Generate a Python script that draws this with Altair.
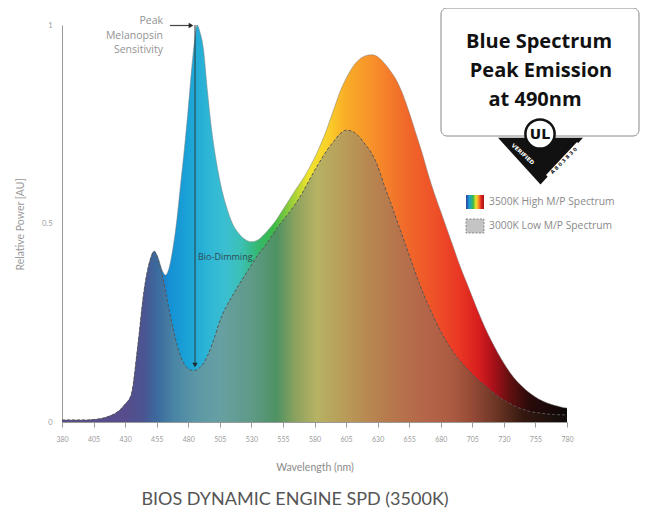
import altair as alt
import pandas as pd

# ---------------- data ----------------
wavelength = [380, 390, 400, 405, 410, 415, 420, 425, 430, 435,
              440, 445, 450, 453, 456, 459, 462, 465, 468, 471,
              474, 477, 480, 483, 485, 487, 489, 492, 495, 498,
              501, 504, 507, 510, 515, 520, 525, 530, 535, 540,
              545, 550, 555, 560, 565, 570, 575, 580, 585, 590,
              595, 600, 605, 610, 615, 620, 625, 630, 635, 640,
              645, 650, 655, 660, 665, 670, 675, 680, 685, 690,
              695, 700, 705, 710, 715, 720, 725, 730, 735, 740,
              745, 750, 755, 760, 765, 770, 775, 780]

high_mp = [0.005, 0.005, 0.005, 0.006, 0.008, 0.012, 0.018, 0.028, 0.045, 0.07,
           0.19, 0.33, 0.41, 0.43, 0.415, 0.385, 0.37, 0.39, 0.44, 0.51,
           0.6, 0.69, 0.79, 0.9, 0.96, 1.0, 0.985, 0.94, 0.84, 0.75,
           0.68, 0.625, 0.58, 0.545, 0.5, 0.475, 0.46, 0.454, 0.458, 0.472,
           0.49, 0.51, 0.535, 0.56, 0.585, 0.608, 0.635, 0.665, 0.7, 0.74,
           0.785, 0.83, 0.865, 0.893, 0.912, 0.922, 0.925, 0.92, 0.905, 0.885,
           0.86, 0.825, 0.78, 0.73, 0.68, 0.625, 0.575, 0.53, 0.485, 0.44,
           0.395, 0.355, 0.315, 0.275, 0.238, 0.205, 0.175, 0.148, 0.124, 0.104,
           0.088, 0.074, 0.063, 0.054, 0.047, 0.042, 0.038, 0.035]

low_mp = [0.005, 0.005, 0.005, 0.006, 0.008, 0.012, 0.018, 0.028, 0.045, 0.07,
          0.19, 0.33, 0.41, 0.43, 0.41, 0.375, 0.33, 0.28, 0.235, 0.195,
          0.165, 0.145, 0.134, 0.13, 0.13, 0.132, 0.137, 0.148, 0.165, 0.188,
          0.215, 0.245, 0.27, 0.29, 0.318, 0.345, 0.37, 0.395, 0.42, 0.44,
          0.463, 0.487, 0.508, 0.528, 0.55, 0.575, 0.604, 0.633, 0.66, 0.685,
          0.706, 0.725, 0.735, 0.732, 0.72, 0.7, 0.678, 0.645, 0.598, 0.555,
          0.51, 0.465, 0.42, 0.375, 0.333, 0.295, 0.26, 0.228, 0.2, 0.175,
          0.155, 0.137, 0.12, 0.105, 0.092, 0.078, 0.066, 0.055, 0.046, 0.038,
          0.032, 0.027, 0.024, 0.022, 0.02, 0.019, 0.018, 0.018]

x_ticks = [380, 405, 430, 455, 480, 505, 530, 555, 580, 605, 630, 655, 680, 705, 730, 755, 780]
y_ticks = [0, 0.5, 1]

title_text = "BIOS DYNAMIC ENGINE SPD (3500K)"
box_lines = ["Blue Spectrum", "Peak Emission", "at 490nm"]
peak_label = "Peak\nMelanopsin\nSensitivity"
dimming_label = "Bio-Dimming"
legend_labels = ["3500K High M/P Spectrum", "3000K Low M/P Spectrum"]

df = pd.DataFrame({"wl": wavelength, "high": high_mp, "low": low_mp})
one = pd.DataFrame({"k": [0]})

# ---------------- styles ----------------
high_stops = [(380, "#5b4e94"), (425, "#5a4a98"), (440, "#4f4d9c"), (452, "#2f63b0"),
              (465, "#1590d4"), (480, "#1aa3d6"), (495, "#2db5d6"), (510, "#3bbfd0"),
              (522, "#3cc0b5"), (535, "#35b870"), (548, "#3cba45"), (562, "#9ccf3a"),
              (575, "#efe42c"), (590, "#fbd12a"), (605, "#f9ac28"), (625, "#f7922a"),
              (650, "#f16c2a"), (675, "#ee5128"), (695, "#e93624"), (710, "#d81e1e"),
              (722, "#a8101a"), (735, "#601010"), (750, "#2a0a0a"), (780, "#0c0808")]
low_stops = [(380, "#5a4f8e"), (430, "#574c8c"), (445, "#4a5592"), (455, "#3b6a9e"),
             (470, "#4a86a5"), (485, "#5b96a6"), (505, "#67a0a2"), (530, "#5f9a88"),
             (550, "#4e9262"), (565, "#8ca25e"), (582, "#b7b264"), (600, "#b8a05a"),
             (620, "#b88a52"), (645, "#b6744c"), (670, "#b46448"), (690, "#aa5a40"),
             (705, "#954a36"), (725, "#6a3424"), (745, "#35180f"), (780, "#0f0c0c")]


def grad(stops):
    return alt.Gradient(gradient="linear",
                        stops=[alt.GradientStop(color=c, offset=(w - 380) / 400.0) for w, c in stops],
                        x1=0, x2=1, y1=0, y2=0)


legend_grad = alt.Gradient(gradient="linear",
                           stops=[alt.GradientStop(color="#2b3f9c", offset=0),
                                  alt.GradientStop(color="#1aa3d6", offset=0.2),
                                  alt.GradientStop(color="#3cba45", offset=0.4),
                                  alt.GradientStop(color="#efe42c", offset=0.55),
                                  alt.GradientStop(color="#f7922a", offset=0.7),
                                  alt.GradientStop(color="#e02020", offset=0.85),
                                  alt.GradientStop(color="#a01818", offset=1)],
                           x1=0, x2=1, y1=0, y2=0)

FONT = "Lato"
FONT2 = "Open Sans"

xenc = alt.X("wl:Q", scale=alt.Scale(domain=[380, 780], nice=False, zero=False),
             axis=alt.Axis(values=x_ticks, tickCount=len(x_ticks) + 2,
                           title="Wavelength (nm)", grid=False,
                           labelOverlap=False, labelFlush=False,
                           domainColor="#9a9a9a", tickColor="#9a9a9a", tickSize=5,
                           labelFontSize=7, labelColor="#9a9a9a", labelPadding=8,
                           labelFont=FONT, titleFont=FONT, titleFontSize=10.5,
                           titleFontWeight="normal", titleColor="#8a8a8a",
                           titleY=45, titleBaseline="middle"))


def yenc(field):
    return alt.Y(field, type="quantitative", scale=alt.Scale(domain=[0, 1], nice=False),
                 axis=alt.Axis(values=y_ticks, tickCount=5, format="~g", title="Relative Power [AU]",
                               grid=False, ticks=False, tickSize=0, domainColor="#9a9a9a",
                               labelOverlap=False, labelFlush=False,
                               labelFontSize=7.5, labelColor="#9a9a9a", labelPadding=10,
                               labelFont=FONT, titleFont=FONT, titleFontSize=10.5,
                               titleFontWeight="normal", titleColor="#9a9a9a",
                               titleX=-42, titleY=199, titleAlign="center",
                               titleBaseline="middle"))


base = alt.Chart(df)
high_area = base.mark_area(color=grad(high_stops), interpolate="monotone").encode(x=xenc, y=yenc("high"))
high_line = base.mark_line(color="#7a7a7a", strokeWidth=0.8, opacity=0.6,
                           interpolate="monotone").encode(x="wl:Q", y="high:Q")
low_area = base.mark_area(color=grad(low_stops), interpolate="monotone").encode(x="wl:Q", y="low:Q")
low_line = base.mark_line(color="#555555", strokeWidth=1, strokeDash=[3, 2],
                          interpolate="monotone").encode(x="wl:Q", y="low:Q")

ann = alt.Chart(one)

# Bio-dimming arrow
dim_rule = ann.mark_rule(color="#2a3a40", strokeWidth=1).encode(
    x=alt.value(133), y=alt.value(0), y2=alt.value(338))
dim_head = ann.mark_point(shape="triangle-down", filled=True, color="#1e2a30", size=30, opacity=1).encode(
    x=alt.value(133), y=alt.value(340))
dim_text = ann.mark_text(text=dimming_label, align="left", baseline="middle", fontSize=9,
                         font=FONT2, color="#2f4a55").encode(x=alt.value(136), y=alt.value(232))

# Peak annotation
peak_text = ann.mark_text(text=peak_label, lineBreak="\n", lineHeight=14.5, align="right",
                          baseline="top", fontSize=10.5, font=FONT2, color="#939393").encode(
    x=alt.value(101), y=alt.value(-9))
peak_rule = ann.mark_rule(color="#444444", strokeWidth=1.2).encode(
    x=alt.value(108), x2=alt.value(127), y=alt.value(0.5))
peak_head = ann.mark_point(shape="triangle-right", filled=True, color="#222222", size=28, opacity=1).encode(
    x=alt.value(129), y=alt.value(0.5))

# Info box with UL mark
box = ann.mark_rect(fill="white", stroke="#8a8a8a", strokeWidth=1, cornerRadius=6).encode(
    x=alt.value(379), x2=alt.value(577), y=alt.value(-17), y2=alt.value(111))
box_text_style = dict(fontSize=20, fontWeight="bold", font=FONT2, color="#111111",
                      align="center", baseline="alphabetic")
box_t1 = ann.mark_text(text=box_lines[0], **box_text_style).encode(x=alt.value(477), y=alt.value(23))
box_t2 = ann.mark_text(text=box_lines[1], **box_text_style).encode(x=alt.value(479), y=alt.value(52))
box_t3 = ann.mark_text(text=box_lines[2], **box_text_style).encode(x=alt.value(473), y=alt.value(81))
ul_tri = ann.mark_point(shape="M -1 -0.5 L 1 -0.5 L 0 0.6 Z", filled=True, color="#111111",
                        size=7225, opacity=1).encode(x=alt.value(478.5), y=alt.value(134))
ul_strip = ann.mark_rule(color="white", strokeWidth=5.5).encode(
    x=alt.value(486), y=alt.value(152), x2=alt.value(517), y2=alt.value(119))
ul_code = ann.mark_text(text="A 8 0 3 8 3 0", fontSize=5, fontWeight="bold", font="DejaVu Sans",
                        color="#111111", align="center", baseline="middle", angle=315).encode(
    x=alt.value(501.5), y=alt.value(135.5))
ul_verified = ann.mark_text(text="VERIFIED", fontSize=5.5, fontWeight="bold", font="DejaVu Sans",
                            color="white", align="center", baseline="middle", angle=42).encode(
    x=alt.value(461), y=alt.value(129))
ul_circle = ann.mark_point(shape="circle", filled=True, fill="white", stroke="#111111",
                           strokeWidth=2.5, size=855, opacity=1).encode(
    x=alt.value(478), y=alt.value(109))
ul_text = ann.mark_text(text="UL", fontSize=14, fontWeight="bold", font="DejaVu Sans",
                        color="#111111", align="center", baseline="middle").encode(
    x=alt.value(478), y=alt.value(109.5))

# Legend
leg_sw1 = ann.mark_rect(color=legend_grad).encode(
    x=alt.value(404), x2=alt.value(422), y=alt.value(170), y2=alt.value(184))
leg_sw2 = ann.mark_rect(fill="#c4c4c4", stroke="#8a8a8a", strokeDash=[2, 1.5], strokeWidth=1).encode(
    x=alt.value(404), x2=alt.value(422), y=alt.value(194), y2=alt.value(208))
leg_t1 = ann.mark_text(text=legend_labels[0], fontSize=10.3, font=FONT2, color="#8a8a8a",
                       align="left", baseline="middle").encode(x=alt.value(427), y=alt.value(177))
leg_t2 = ann.mark_text(text=legend_labels[1], fontSize=10.3, font=FONT2, color="#8a8a8a",
                       align="left", baseline="middle").encode(x=alt.value(427), y=alt.value(201))

# Bottom title
bottom_title = ann.mark_text(text=title_text, fontSize=18, font=FONT, color="#555555",
                             align="center", baseline="middle").encode(
    x=alt.value(233), y=alt.value(475))

chart = alt.layer(
    high_area, high_line, low_area, low_line,
    dim_rule, dim_head, dim_text,
    peak_text, peak_rule, peak_head,
    box, box_t1, box_t2, box_t3, ul_tri, ul_strip, ul_code, ul_verified, ul_circle, ul_text,
    leg_sw1, leg_sw2, leg_t1, leg_t2,
    bottom_title,
).properties(
    width=505, height=397,
    autosize=alt.AutoSizeParams(type="none"),
    padding={"left": 54, "top": 17, "right": 73, "bottom": 86},
    background="white",
).configure_view(stroke=None)

chart.save("out.html", embed_options={"renderer": "svg", "actions": False})
